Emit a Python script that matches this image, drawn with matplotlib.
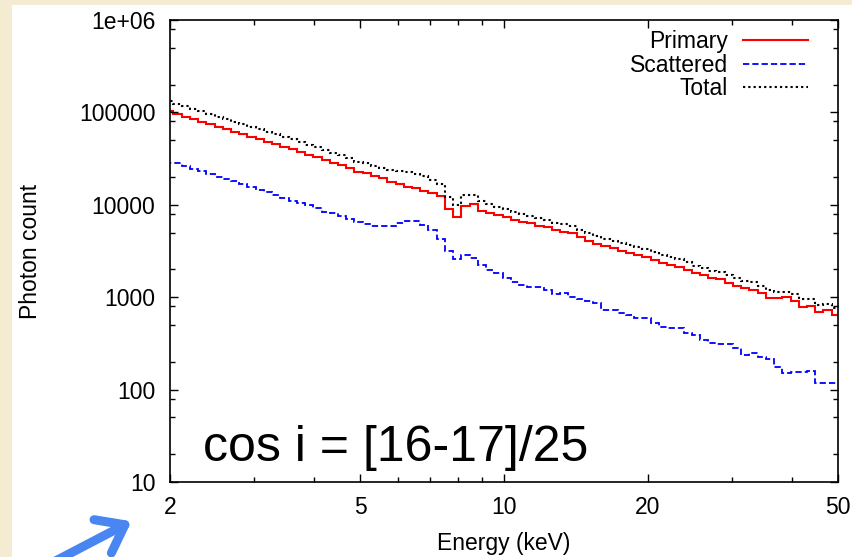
import numpy as np
import matplotlib
matplotlib.use("Agg")
import matplotlib.pyplot as plt
from matplotlib.patches import Rectangle, FancyArrowPatch
from matplotlib.ticker import FixedLocator, LogLocator, NullFormatter

# energy bins (keV), log-spaced histogram
edges = np.geomspace(1.954, 50.46, 83)

primary = [
    103600, 95400, 89900, 84800, 79300, 74300, 70000, 65600, 61800, 57900,
    54600, 51500, 48200, 45500, 42500, 39900, 37600, 34600, 32700, 30500,
    28100, 27000, 24800, 22800, 21900, 20600, 19400, 17800, 16800, 15700,
    15100, 14200, 13300, 12600, 8940, 7430, 9780, 10100, 8630, 8210,
    7760, 7430, 6850, 6560, 6310, 5900, 5710, 5340, 5120, 4920,
    4450, 4090, 3770, 3580, 3380, 3190, 2990, 2860, 2700, 2530,
    2360, 2230, 2140, 1970, 1810, 1720, 1600, 1560, 1440, 1320,
    1250, 1200, 1100, 973, 973, 997, 917, 789, 803, 697,
    727, 642,
]

scattered = [
    28500, 28100, 26300, 24700, 23200, 21500, 20200, 19000, 17900, 16800,
    15700, 14600, 13600, 12800, 11800, 11100, 10500, 9950, 9170, 8460,
    8150, 7560, 7020, 6560, 6200, 5900, 5830, 5900, 6350, 6680,
    6600, 6120, 5400, 4260, 3200, 2560, 2860, 2640, 2230, 1970,
    1810, 1600, 1470, 1360, 1300, 1290, 1200, 1080, 1120, 1010,
    950, 900, 859, 727, 727, 670, 642, 591, 591, 522,
    480, 468, 461, 407, 390, 344, 322, 311, 311, 280,
    237, 251, 227, 213, 177, 152, 156, 156, 160, 119,
    117, 117,
]

total = np.array(primary) + np.array(scattered)

x_major = [2, 5, 10, 20, 50]
x_minor = [3, 4, 6, 7, 8, 9, 30, 40]
y_labels = ["10", "100", "1000", "10000", "100000", "1e+06"]

plt.rcParams["font.family"] = ["Liberation Sans", "DejaVu Sans"]
plt.rcParams["lines.scale_dashes"] = False

W, H = 852, 557
fig = plt.figure(figsize=(W / 100, H / 100), dpi=100)
fig.patch.set_facecolor("#f3ecd2")
# white slide panel
fig.add_artist(Rectangle((12 / W, 0), 1, 1 - 5 / H, transform=fig.transFigure,
                         facecolor="white", edgecolor="none", zorder=0))

ax = fig.add_axes([170 / W, 1 - 482 / H, 668 / W, 462 / H])
ax.set_xscale("log")
ax.set_yscale("log")

ax.stairs(primary, edges, baseline=None, color="#ff0000", lw=1.5, label="Primary")
ax.stairs(scattered, edges, baseline=None, color="#0000ff", lw=1.3,
          linestyle=(0, (4.5, 2.2)), label="Scattered")
ax.stairs(total, edges, baseline=None, color="black", lw=1.5,
          linestyle=(0, (1.6, 2.2)), label="Total")

ax.set_xlim(2, 50)
ax.set_ylim(10, 1e6)

ax.xaxis.set_major_locator(FixedLocator(x_major))
ax.xaxis.set_minor_locator(FixedLocator(x_minor))
ax.set_xticklabels([str(v) for v in x_major])
ax.xaxis.set_minor_formatter(NullFormatter())
ax.yaxis.set_major_locator(FixedLocator([10, 100, 1e3, 1e4, 1e5, 1e6]))
ax.yaxis.set_minor_locator(LogLocator(base=10, subs=[2, 5, 8]))
ax.set_yticklabels(y_labels)
ax.yaxis.set_minor_formatter(NullFormatter())

ax.tick_params(which="both", direction="in", top=True, right=True,
               width=1.0, labelsize=16.5, colors="black")
ax.tick_params(which="major", length=6)
ax.tick_params(which="minor", length=3.6)
ax.tick_params(axis="y", pad=10.5)
ax.tick_params(axis="x", pad=10)
for sp in ax.spines.values():
    sp.set_linewidth(1.2)

ax.set_xlabel("Energy (keV)", fontsize=16.5)
ax.set_ylabel("Photon count", fontsize=16.5)
ax.xaxis.set_label_coords(0.5, -0.108)
ax.yaxis.set_label_coords(-0.192, 0.5)

leg = ax.legend(loc="upper right", bbox_to_anchor=(0.955, 0.978), frameon=False,
                markerfirst=False, fontsize=16.5, handlelength=2.84,
                handletextpad=0.65, labelspacing=0.02, borderpad=0,
                borderaxespad=0)

fig.text(203 / W, 1 - 461 / H, "cos i = [16-17]/25", fontsize=36,
         va="baseline", ha="left", color="black")

arrow = FancyArrowPatch((42 / W, 1 - 568 / H), (134 / W, 1 - 520 / H),
                        transform=fig.transFigure,
                        arrowstyle="->,head_length=1.0,head_width=0.75",
                        mutation_scale=18, lw=6.5, color="#4a86f2",
                        capstyle="round", joinstyle="round")
fig.add_artist(arrow)

fig.savefig("out.png", dpi=100, facecolor=fig.get_facecolor())
